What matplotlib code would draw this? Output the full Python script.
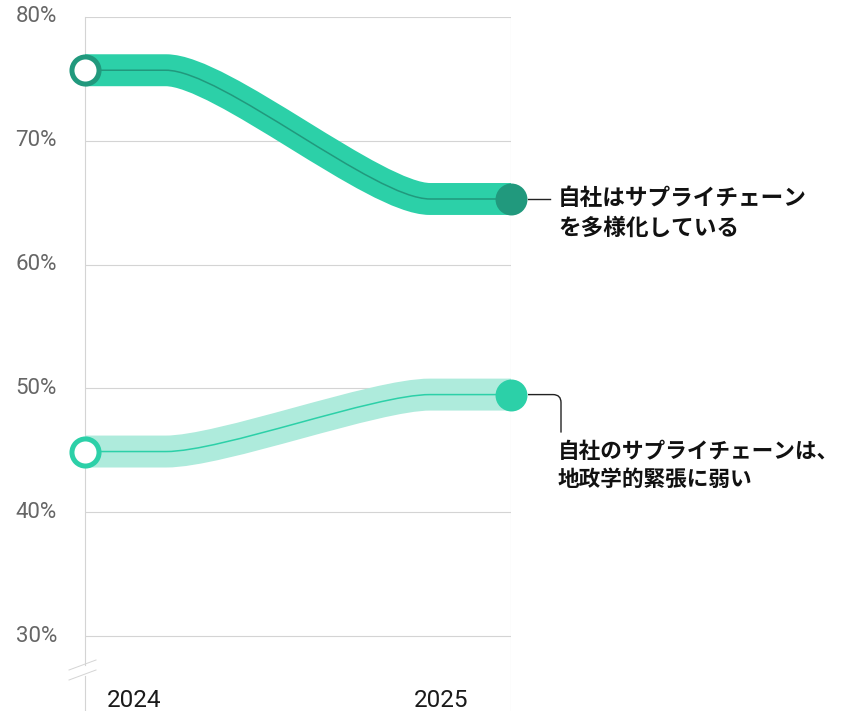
import matplotlib
matplotlib.use('Agg')
import matplotlib.pyplot as plt
from matplotlib.path import Path
from matplotlib.patches import PathPatch
from matplotlib.lines import Line2D
from matplotlib.transforms import IdentityTransform

# データ
years = [2024, 2025]
diversified = [75.7, 65.3]   # 自社はサプライチェーンを多様化している
vulnerable = [44.9, 49.5]    # 自社のサプライチェーンは地政学的緊張に弱い
y_ticks = [30, 40, 50, 60, 70, 80]
y_labels = ['30%', '40%', '50%', '60%', '70%', '80%']
x_labels = ['2024', '2025']
label_div = ['自社はサプライチェーン', 'を多様化している']
label_vul = ['自社のサプライチェーンは、', '地政学的緊張に弱い']

GRID = '#d4d4d4'
TOP_BAND = '#2cd0a8'
TOP_DARK = '#21997d'
LOW_BAND = '#aeebdc'
LOW_DARK = '#2cd0a8'
jp = ['Noto Sans CJK JP', 'DejaVu Sans']
num_font = ['Roboto', 'DejaVu Sans']

fig = plt.figure(figsize=(8.44, 7.11), dpi=100)
ax = fig.add_axes([85 / 844, 0, 426 / 844, 694 / 711])
ymin = 80 - 694 / 12.38
ax.set_xlim(years[0], years[1])
ax.set_ylim(ymin, 80)
ax.axis('off')
pix = IdentityTransform()


def to_px(x, y, dx=0, dy=0):
    # データ座標 -> ピクセル (dy は下向き)
    X, Y = ax.transData.transform((x, y))
    return X + dx, Y - dy


def s_curve(x0, x1, y0, y1):
    w = x1 - x0
    verts = [(x0, y0), (x0 + .19 * w, y0), (x0 + .32 * w, y0),
             (x0 + .68 * w, y1), (x0 + .81 * w, y1), (x1, y1)]
    codes = [Path.MOVETO, Path.LINETO, Path.CURVE4, Path.CURVE4, Path.CURVE4, Path.LINETO]
    return Path(verts, codes)


def px_line(p0, p1, **kw):
    ax.add_line(Line2D([p0[0], p1[0]], [p0[1], p1[1]], transform=pix, clip_on=False, **kw))


# グリッド
ax.hlines(y_ticks, years[0], years[1], color=GRID, lw=0.8, zorder=1)
ax.vlines(years[1], ymin, 80, color=GRID, lw=0.8, zorder=1)

# 左の軸線 (途中で省略記号)
px_line(to_px(years[0], 80), to_px(years[0], y_ticks[0], 0, 29), color=GRID, lw=0.8, zorder=1)
px_line(to_px(years[0], y_ticks[0], 0, 40), to_px(years[0], ymin), color=GRID, lw=0.8, zorder=1)
for off in [0, 10]:
    px_line(to_px(years[0], y_ticks[0], -16, 34 + off), to_px(years[0], y_ticks[0], 11, 24 + off),
            color=GRID, lw=0.7, zorder=1)

# 系列
for vals, band, dark in [(vulnerable, LOW_BAND, LOW_DARK), (diversified, TOP_BAND, TOP_DARK)]:
    p = s_curve(years[0], years[1], vals[0], vals[1])
    ax.add_patch(PathPatch(p, fill=False, lw=23, ec=band, capstyle='butt', joinstyle='round', zorder=3, clip_on=False))
    ax.add_patch(PathPatch(p, fill=False, lw=1.1, ec=dark, zorder=4, clip_on=False))
    ax.plot(years[0], vals[0], 'o', ms=19.5, mfc='white', mec=dark, mew=3.6, zorder=5, clip_on=False)
    ax.plot(years[1], vals[1], 'o', ms=23, mfc=dark, mec='none', zorder=5, clip_on=False)

# 目盛りラベル
for t, lab in zip(y_ticks, y_labels):
    ax.annotate(lab, (years[0], t), xytext=(-28, 0), textcoords='offset pixels',
                ha='right', va='center', fontsize=16, color='#666666', family=num_font)
ax.annotate(x_labels[0], (years[0], ymin), xytext=(22, 4), textcoords='offset pixels',
            ha='left', va='baseline', fontsize=17.5, color='#1a1a1a', family=num_font)
ax.annotate(x_labels[1], (years[1], ymin), xytext=(-43, 4), textcoords='offset pixels',
            ha='right', va='baseline', fontsize=17.5, color='#1a1a1a', family=num_font)

# 注釈線とラベル
px_line(to_px(years[1], diversified[1], 17, 0), to_px(years[1], diversified[1], 39, 0),
        color='#222222', lw=1.0)
for i, line in enumerate(label_div):
    x, y = to_px(years[1], diversified[1], 47, 29 * i)
    ax.text(x, y, line, transform=pix, ha='left', va='center', fontsize=16.3,
            fontweight='bold', color='#111111', family=jp)

pts = [to_px(years[1], vulnerable[1], dx, dy) for dx, dy in
       [(17, 0), (42, 0), (50, 0), (50, 8), (50, 38)]]
codes = [Path.MOVETO, Path.LINETO, Path.CURVE3, Path.CURVE3, Path.LINETO]
ax.add_patch(PathPatch(Path(pts, codes), fill=False, ec='#222222', lw=1.0, transform=pix, clip_on=False))
for i, line in enumerate(label_vul):
    x, y = to_px(years[1], vulnerable[1], 47, 57 + 28 * i)
    ax.text(x, y, line, transform=pix, ha='left', va='center', fontsize=15.6,
            fontweight='bold', color='#111111', family=jp)

fig.savefig('out.png', dpi=100)
